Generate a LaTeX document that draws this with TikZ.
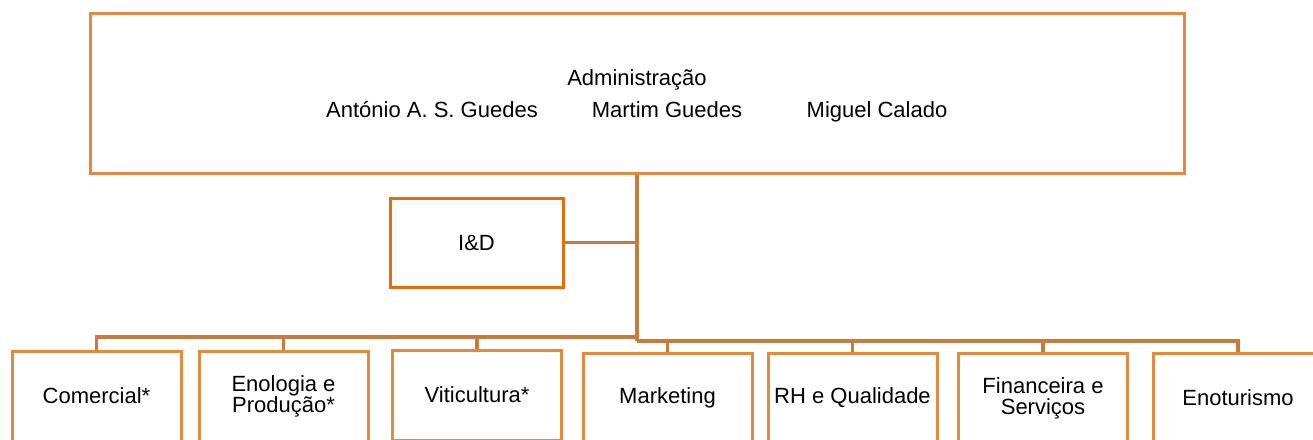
\documentclass[tikz,border=0pt]{standalone}
\usepackage{fontspec}
\setmainfont{Liberation Sans}
\definecolor{boxorange}{HTML}{E48A40}
\definecolor{idorange}{HTML}{E46C0A}
\definecolor{linkbrown}{HTML}{C87B3D}

\begin{document}
\begin{tikzpicture}[x=1pt,y=-1pt,
	box/.style={rectangle, draw=boxorange, line width=3pt, minimum width=169pt, minimum height=90pt, inner sep=0pt, align=center, font=\fontsize{22}{21}\selectfont},
	txt/.style={anchor=base, inner sep=0pt, font=\fontsize{22}{26}\selectfont},
	link/.style={draw=linkbrown, line width=3.4pt}]
	\useasboundingbox (0,0) rectangle (1313,439);
	\clip (0,0) rectangle (1313,439);
	% top box
	\node[box, minimum width=1094pt, minimum height=160pt] (adm) at (637,93) {};
	\node[txt] (admname) at (637,85) {Administração};
	\node[txt] (p1) at (432,117) {António A. S. Guedes};
	\node[txt] (p2) at (667,117) {Martim Guedes};
	\node[txt] (p3) at (877,117) {Miguel Calado};
	\node[box, draw=idorange, minimum width=173pt, minimum height=89pt] (id) at (476.5,242.5) {I\&D};
	% departments
	\foreach \name/\x/\y/\lbl in {com/96.5/396/Comercial*, eno/283.5/396/{Enologia e\\Produção*}, vit/477/395/Viticultura*,
		mkt/667.5/398/Marketing, rh/852.5/398/RH e Qualidade, fin/1043/398/{Financeira e\\Serviços}, enot/1238/398/Enoturismo}
		\node[box] (\name) at (\x,\y) {\lbl};
	\coordinate (lbus) at (637,337);
	\coordinate (rbus) at (637,341);
	\draw[link] (adm.south) -- (rbus);
	\draw[link] (id.east) -- (id.east -| adm.south);
	\foreach \to in {com,eno,vit}
		\draw[link] (lbus) -| (\to.north);
	\foreach \to in {mkt,rh,fin,enot}
		\draw[link] (rbus) -| (\to.north);
\end{tikzpicture}
\end{document}
